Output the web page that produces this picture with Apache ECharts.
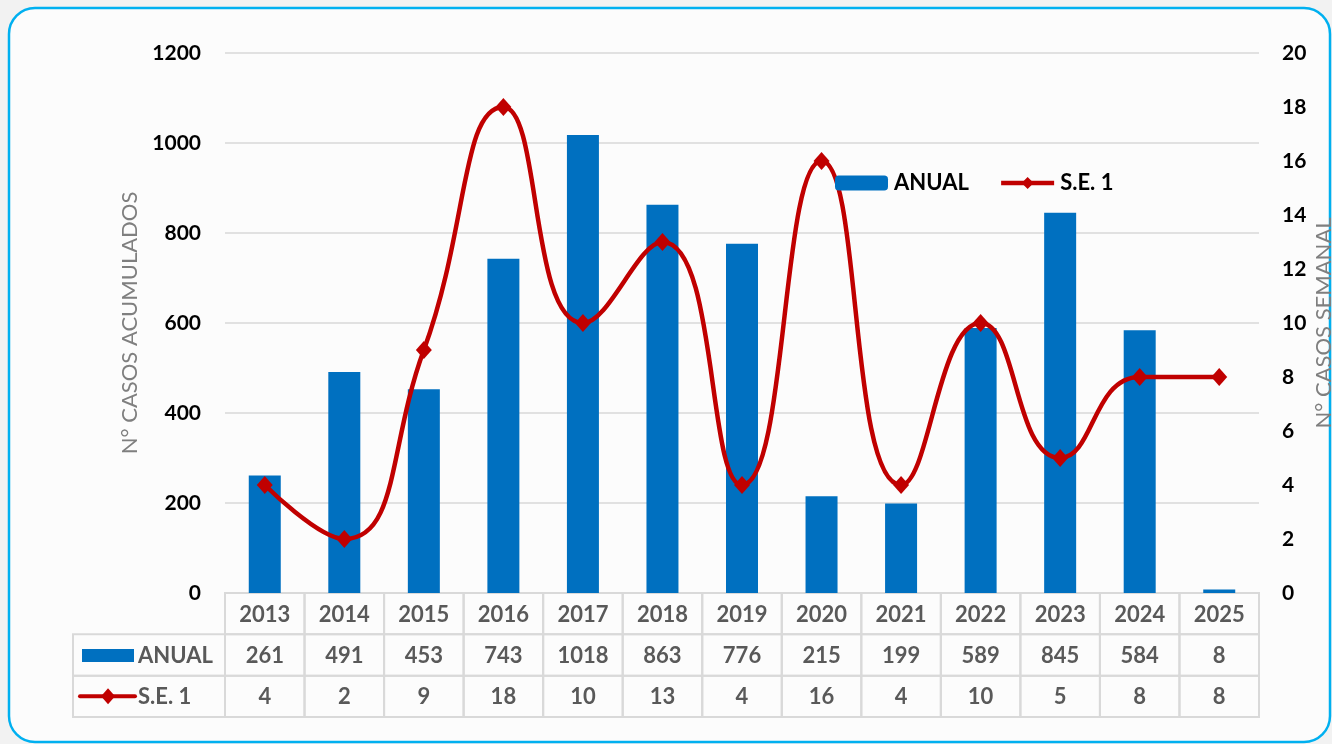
<!DOCTYPE html>
<html>
<head>
<meta charset="utf-8">
<script src="https://cdn.jsdelivr.net/npm/echarts@6/dist/echarts.min.js"></script>
<style>
  html, body { margin: 0; padding: 0; background: #f2f2f2; }
  #chart { width: 1332px; height: 744px; }
</style>
</head>
<body>
<div id="chart"></div>
<script>
// datos
const years = ['2013', '2014', '2015', '2016', '2017', '2018', '2019', '2020', '2021', '2022', '2023', '2024', '2025'];
const anual = [261, 491, 453, 743, 1018, 863, 776, 215, 199, 589, 845, 584, 8];
const se1 = [4, 2, 9, 18, 10, 13, 4, 16, 4, 10, 5, 8, 8];
const leftTicks = { min: 0, max: 1200, interval: 200 };
const rightTicks = { min: 0, max: 20, interval: 2 };
const rowNames = ['AÑO', 'ANUAL', 'S.E. 1'];

const BLUE = '#0070c0';
const RED = '#c00000';
const GRID_LINE = '#d9d9d9';
const FONT = 'Lato';

const chart = echarts.init(document.getElementById('chart'));

// celdas de la tabla: [columna, fila, texto]
const cells = [];
years.forEach((y, i) => {
  cells.push([i, 0, y]);
  cells.push([i, 1, String(anual[i])]);
  cells.push([i, 2, String(se1[i])]);
});
const headerCells = [[0, 1, 'ANUAL'], [0, 2, 'S.E. 1']];

const HEADER_W = 152;

function renderCell(params, api) {
  const c = api.coord([api.value(0), api.value(1)]);
  const s = api.size([1, 1]);
  const text = cells[params.dataIndex][2];
  return {
    type: 'group',
    children: [
      {
        type: 'rect',
        shape: { x: c[0] - s[0] / 2, y: c[1] - s[1] / 2, width: s[0], height: s[1] },
        style: { fill: 'rgba(0,0,0,0)', stroke: GRID_LINE, lineWidth: 2 }
      },
      {
        type: 'text',
        style: {
          text: text, x: c[0], y: c[1] + 1, align: 'center', verticalAlign: 'middle',
          font: 'bold 22px ' + FONT, fill: '#595959'
        }
      }
    ]
  };
}

function renderHeader(params, api) {
  const c = api.coord([api.value(0), api.value(1)]);
  const s = api.size([1, 1]);
  const right = c[0] - s[0] / 2;
  const left = right - HEADER_W;
  const top = c[1] - s[1] / 2;
  const cy = c[1];
  const isBar = api.value(1) === 1;
  const icon = isBar
    ? { type: 'rect', shape: { x: left + 9, y: cy - 6, width: 52, height: 13 }, style: { fill: BLUE } }
    : {
        type: 'group',
        children: [
          { type: 'line', shape: { x1: left + 7, y1: cy, x2: left + 62, y2: cy },
            style: { stroke: RED, lineWidth: 4, lineCap: 'round' } },
          { type: 'polygon', shape: { points: [[left + 35, cy - 8], [left + 42, cy], [left + 35, cy + 8], [left + 28, cy]] },
            style: { fill: RED } }
        ]
      };
  return {
    type: 'group',
    children: [
      {
        type: 'rect',
        shape: { x: left, y: top, width: HEADER_W, height: s[1] },
        style: { fill: 'rgba(0,0,0,0)', stroke: GRID_LINE, lineWidth: 2 }
      },
      icon,
      {
        type: 'text',
        style: {
          text: headerCells[params.dataIndex][2], x: left + 65, y: cy + 1, align: 'left', verticalAlign: 'middle',
          font: 'bold 22px ' + FONT, fill: '#595959'
        }
      }
    ]
  };
}

const option = {
  animation: false,
  backgroundColor: '#f2f2f2',
  textStyle: { fontFamily: FONT },
  graphic: [
    {
      type: 'rect',
      z: -10,
      shape: { x: 9, y: 8, width: 1321, height: 734, r: 26 },
      style: { fill: '#fcfcfc', stroke: '#00b0f0', lineWidth: 2.5 }
    }
  ],
  legend: {
    left: 835,
    top: 172,
    padding: 0,
    itemWidth: 53,
    itemHeight: 15,
    itemGap: 30,
    data: ['ANUAL', 'S.E. 1'],
    lineStyle: { width: 4.5 },
    textStyle: { fontFamily: FONT, fontWeight: 'bold', fontSize: 22, color: '#000', padding: [2, 0, 0, 1] }
  },
  grid: [
    { left: 225, right: 73, top: 53, bottom: 151, outerBoundsMode: 'none' },
    { left: 225, right: 73, top: 593, height: 124, outerBoundsMode: 'none' }
  ],
  xAxis: [
    {
      type: 'category', gridIndex: 0, data: years,
      axisLine: { show: false }, axisTick: { show: false }, axisLabel: { show: false }
    },
    {
      type: 'category', gridIndex: 1, data: years,
      axisLine: { show: false }, axisTick: { show: false }, axisLabel: { show: false }
    }
  ],
  yAxis: [
    {
      type: 'value', gridIndex: 0, position: 'left',
      min: leftTicks.min, max: leftTicks.max, interval: leftTicks.interval,
      name: 'N° CASOS ACUMULADOS', nameLocation: 'middle', nameGap: 84, nameRotate: 90,
      nameTextStyle: { fontFamily: FONT, fontSize: 22, color: '#7f7f7f' },
      axisLine: { show: false }, axisTick: { show: false },
      axisLabel: { margin: 24, fontFamily: FONT, fontWeight: 'bold', fontSize: 21, color: '#000', formatter: v => String(v) },
      splitLine: { lineStyle: { color: GRID_LINE, width: 1.5 } }
    },
    {
      type: 'value', gridIndex: 0, position: 'right',
      min: rightTicks.min, max: rightTicks.max, interval: rightTicks.interval,
      name: 'N° CASOS SEMANAL', nameLocation: 'middle', nameGap: 54, nameRotate: 90,
      nameMoveOverlap: false,
      nameTextStyle: { fontFamily: FONT, fontSize: 22, color: '#7f7f7f' },
      axisLine: { show: false }, axisTick: { show: false },
      axisLabel: { margin: 23, fontFamily: FONT, fontWeight: 'bold', fontSize: 21, color: '#000', formatter: v => String(v) },
      splitLine: { show: false }
    },
    {
      type: 'category', gridIndex: 1, data: rowNames, inverse: true,
      axisLine: { show: false }, axisTick: { show: false }, axisLabel: { show: false }
    }
  ],
  series: [
    {
      name: 'ANUAL',
      type: 'bar',
      xAxisIndex: 0, yAxisIndex: 0,
      data: anual,
      barWidth: 32,
      itemStyle: { color: BLUE }
    },
    {
      name: 'S.E. 1',
      type: 'line',
      xAxisIndex: 0, yAxisIndex: 1,
      data: se1,
      smooth: 0.5,
      symbol: 'diamond',
      symbolSize: [16, 18],
      lineStyle: { color: RED, width: 4.5 },
      itemStyle: { color: RED }
    },
    {
      type: 'custom',
      xAxisIndex: 1, yAxisIndex: 2,
      data: cells,
      renderItem: renderCell,
      silent: true
    },
    {
      type: 'custom',
      xAxisIndex: 1, yAxisIndex: 2,
      data: headerCells,
      renderItem: renderHeader,
      silent: true
    }
  ]
};

chart.setOption(option);
</script>
</body>
</html>
